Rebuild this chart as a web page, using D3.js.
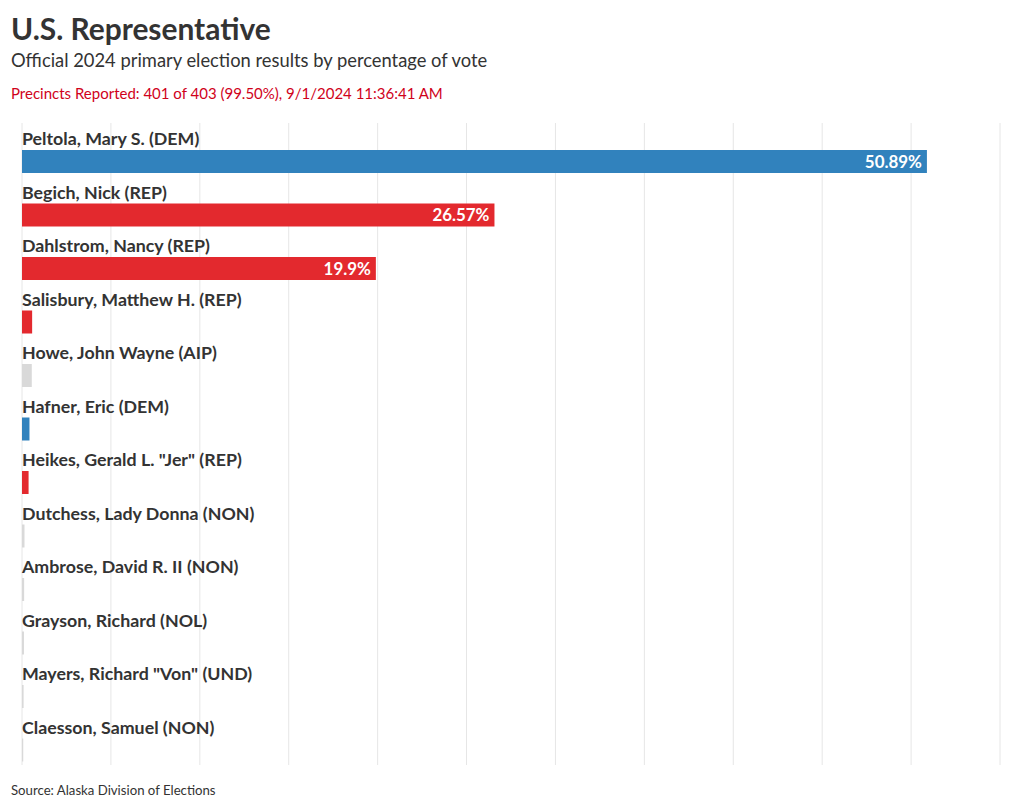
<!DOCTYPE html>
<html><head><meta charset="utf-8">
<script src="https://cdn.jsdelivr.net/npm/d3@7"></script>
<style>
body{margin:0;background:#fff;}
svg text{font-family:Lato,"Noto Sans",sans-serif;}
</style></head>
<body><svg id="c" width="1020" height="810"></svg>
<script>
const candidates = ["Peltola, Mary S. (DEM)","Begich, Nick (REP)","Dahlstrom, Nancy (REP)","Salisbury, Matthew H. (REP)","Howe, John Wayne (AIP)","Hafner, Eric (DEM)","Heikes, Gerald L. \"Jer\" (REP)","Dutchess, Lady Donna (NON)","Ambrose, David R. II (NON)","Grayson, Richard (NOL)","Mayers, Richard \"Von\" (UND)","Claesson, Samuel (NON)"];
const parties = ["DEM","REP","REP","REP","AIP","DEM","REP","NON","NON","NOL","UND","NON"];
const percents = [50.89,26.57,19.9,0.57,0.55,0.42,0.37,0.14,0.12,0.11,0.09,0.07];
const shownLabels = ["50.89%","26.57%","19.9%","","","","","","","","",""];
const xTicks = [0,5,10,15,20,25,30,35,40,45,50,55];

const svg = d3.select("#c");
const colorOf = p => p==="DEM" ? "#3182bd" : p==="REP" ? "#e3292e" : "#d9d9d9";

svg.append("text").attr("x",11).attr("y",40).attr("font-size",29.9).attr("font-weight",700).attr("fill","#333").text("U.S. Representative");
svg.append("text").attr("x",11).attr("y",67).attr("font-size",18.35).attr("fill","#333").text("Official 2024 primary election results by percentage of vote");
svg.append("text").attr("x",11).attr("y",99).attr("font-size",15).attr("fill","#d0021b").text("Precincts Reported: 401 of 403 (99.50%), 9/1/2024 11:36:41 AM");
svg.append("text").attr("x",11).attr("y",795).attr("font-size",13.2).attr("fill","#333").text("Source: Alaska Division of Elections");

const x = d3.scaleLinear().domain([0,55]).range([22,1000]);
const y = d3.scaleBand().domain(candidates).range([123,765]);

svg.append("g").selectAll("line").data(xTicks).join("line")
  .attr("x1",d=>x(d)).attr("x2",d=>x(d)).attr("y1",123).attr("y2",765)
  .attr("stroke","#e6e6e6").attr("stroke-width",1);

const rows = svg.append("g").selectAll("g").data(candidates).join("g")
  .attr("transform",d=>`translate(0,${y(d)})`);
rows.append("text").attr("x",22).attr("y",22).attr("font-size",17.8).attr("font-weight",700).attr("fill","#333").text(d=>d);
rows.append("rect").attr("x",x(0)).attr("y",27).attr("height",23)
  .attr("width",(d,i)=>x(percents[i])-x(0)).attr("fill",(d,i)=>colorOf(parties[i]));
rows.append("text").attr("x",(d,i)=>x(percents[i])-5).attr("y",44.5).attr("text-anchor","end")
  .attr("font-size",16.9).attr("font-weight",700).attr("fill","#fff").text((d,i)=>shownLabels[i]);
</script></body></html>
